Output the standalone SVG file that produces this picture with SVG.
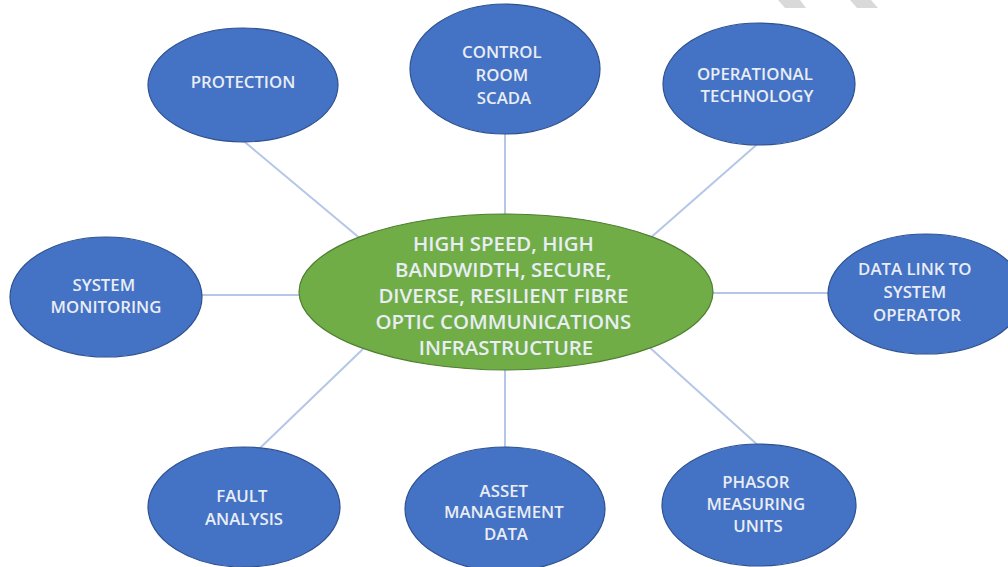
<svg xmlns="http://www.w3.org/2000/svg" width="1008" height="567" viewBox="0 0 1008 567">
  <defs>
    <style>
      .bg { fill: #ffffff; }
      .mark { fill: #d9d9d9; }
      .link { stroke: #b4c7e7; stroke-width: 2; fill: none; }
      .node { fill: #4472c4; stroke: #2f528f; stroke-width: 1.2; }
      .hub { fill: #70ad47; stroke: #507e32; stroke-width: 1.2; }
      .label { font-family: "Open Sans", "Liberation Sans", sans-serif; font-weight: 600; font-size: 16.8px; fill: #e9edf5; text-anchor: middle; dominant-baseline: central; }
      .hub-label { font-size: 20.4px; }
    </style>
  </defs>
  <rect class="bg" x="0" y="0" width="1008" height="567"/>

  <!-- light grey corner strokes -->
  <polygon class="mark" points="778,0 800,0 806,8 785,8"/>
  <polygon class="mark" points="850,0 871,0 878,8 857,8"/>

  <!-- spokes -->
  <g id="connectors">
    <line class="link" x1="240" y1="138" x2="362" y2="240"/>
    <line class="link" x1="505" y1="130" x2="505" y2="218"/>
    <line class="link" x1="762" y1="140" x2="648" y2="240"/>
    <line class="link" x1="198" y1="295" x2="302" y2="295"/>
    <line class="link" x1="708" y1="293" x2="832" y2="293"/>
    <line class="link" x1="258" y1="450" x2="364" y2="348"/>
    <line class="link" x1="505" y1="366" x2="505" y2="450"/>
    <line class="link" x1="761" y1="448" x2="648" y2="346"/>
  </g>

  <g id="hub">
    <ellipse class="hub" cx="506" cy="292" rx="207" ry="78"/>
    <text class="label hub-label" x="506">
      <tspan x="506" y="243">HIGH SPEED, HIGH</tspan>
      <tspan x="506" y="269">BANDWIDTH, SECURE,</tspan>
      <tspan x="506" y="295">DIVERSE, RESILIENT FIBRE</tspan>
      <tspan x="506" y="321">OPTIC COMMUNICATIONS</tspan>
      <tspan x="506" y="347">INFRASTRUCTURE</tspan>
    </text>
  </g>

  <g id="protection">
    <ellipse class="node" cx="243" cy="85" rx="95" ry="57"/>
    <text class="label" x="243" y="81">PROTECTION</text>
  </g>

  <g id="control-room-scada">
    <ellipse class="node" cx="505" cy="69" rx="95" ry="65"/>
    <text class="label">
      <tspan x="504" y="51">CONTROL</tspan>
      <tspan x="504" y="74">ROOM</tspan>
      <tspan x="504" y="97">SCADA</tspan>
    </text>
  </g>

  <g id="operational-technology">
    <ellipse class="node" cx="759" cy="84" rx="96" ry="61"/>
    <text class="label">
      <tspan x="757" y="73">OPERATIONAL</tspan>
      <tspan x="757" y="95">TECHNOLOGY</tspan>
    </text>
  </g>

  <g id="system-monitoring">
    <ellipse class="node" cx="106" cy="297" rx="96" ry="60"/>
    <text class="label">
      <tspan x="106" y="284">SYSTEM</tspan>
      <tspan x="106" y="306">MONITORING</tspan>
    </text>
  </g>

  <g id="data-link">
    <ellipse class="node" cx="926" cy="294" rx="98" ry="60"/>
    <text class="label">
      <tspan x="917" y="268">DATA LINK TO</tspan>
      <tspan x="917" y="291">SYSTEM</tspan>
      <tspan x="917" y="314">OPERATOR</tspan>
    </text>
  </g>

  <g id="fault-analysis">
    <ellipse class="node" cx="244" cy="507" rx="96" ry="60"/>
    <text class="label">
      <tspan x="244" y="495">FAULT</tspan>
      <tspan x="244" y="518">ANALYSIS</tspan>
    </text>
  </g>

  <g id="asset-management">
    <ellipse class="node" cx="505" cy="509" rx="100" ry="62"/>
    <text class="label">
      <tspan x="506" y="490">ASSET</tspan>
      <tspan x="506" y="511">MANAGEMENT</tspan>
      <tspan x="506" y="533">DATA</tspan>
    </text>
  </g>

  <g id="phasor-measuring-units">
    <ellipse class="node" cx="759" cy="505" rx="97" ry="61"/>
    <text class="label">
      <tspan x="758" y="481">PHASOR</tspan>
      <tspan x="758" y="503">MEASURING</tspan>
      <tspan x="758" y="525">UNITS</tspan>
    </text>
  </g>
</svg>
